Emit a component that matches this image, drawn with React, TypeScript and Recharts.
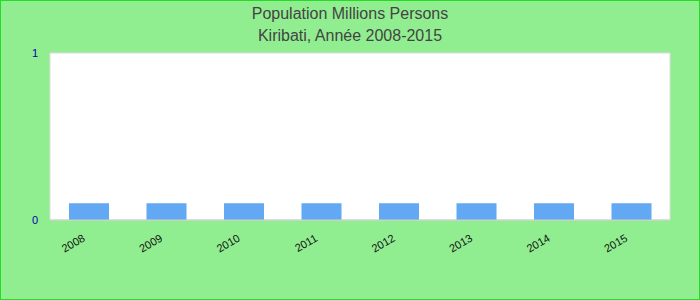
import { BarChart, Bar, XAxis, YAxis, CartesianGrid } from 'recharts';

const years = ['2008', '2009', '2010', '2011', '2012', '2013', '2014', '2015'];
const population = [0.1, 0.1, 0.1, 0.1, 0.1, 0.1, 0.1, 0.1];
const yTicks = [0, 1];

const data = years.map((year, i) => ({ year, population: population[i] }));

const YearTick = (props: any) => {
  const { x, y, payload } = props;
  return (
    <g transform={`translate(${x - 5},${y + 9})`}>
      <text
        textAnchor="end"
        transform="rotate(-30)"
        fontSize={11}
        fill="#111"
        fontFamily="Arial, 'Liberation Sans', sans-serif"
        dy={4}
      >
        {payload.value}
      </text>
    </g>
  );
};

export default function App() {
  return (
    <div
      style={{
        position: 'fixed',
        top: 0,
        left: 0,
        width: 700,
        height: 300,
        boxSizing: 'border-box',
        border: '1px solid #22dd22',
        background: '#90ee90',
        fontFamily: "Arial, 'Liberation Sans', sans-serif",
      }}
    >
      <div
        style={{
          position: 'absolute',
          top: 2,
          left: 0,
          width: '100%',
          textAlign: 'center',
          color: '#444',
          fontSize: 16,
          lineHeight: '22px',
        }}
      >
        <div>Population Millions Persons</div>
        <div>Kiribati, Année 2008-2015</div>
      </div>
      <BarChart
        width={698}
        height={298}
        data={data}
        margin={{ top: 52, right: 0, left: 0, bottom: 49 }}
        barSize={40}
      >
        <CartesianGrid fill="#ffffff" stroke="#dddddd" vertical={false} />
        <XAxis
          dataKey="year"
          height={30}
          interval={0}
          tickLine={false}
          axisLine={{ stroke: '#cccccc' }}
          tick={<YearTick />}
        />
        <YAxis
          yAxisId="left"
          width={49}
          domain={[0, 1]}
          ticks={yTicks}
          tickLine={false}
          tickMargin={6}
          axisLine={{ stroke: '#dddddd' }}
          tick={{ fill: '#0000aa', fontSize: 11 }}
        />
        <YAxis
          yAxisId="right"
          orientation="right"
          width={29}
          domain={[0, 1]}
          ticks={yTicks}
          tick={false}
          tickLine={false}
          axisLine={{ stroke: '#dddddd' }}
        />
        <Bar
          yAxisId="left"
          dataKey="population"
          fill="#62a8f2"
          isAnimationActive={false}
        />
      </BarChart>
    </div>
  );
}
